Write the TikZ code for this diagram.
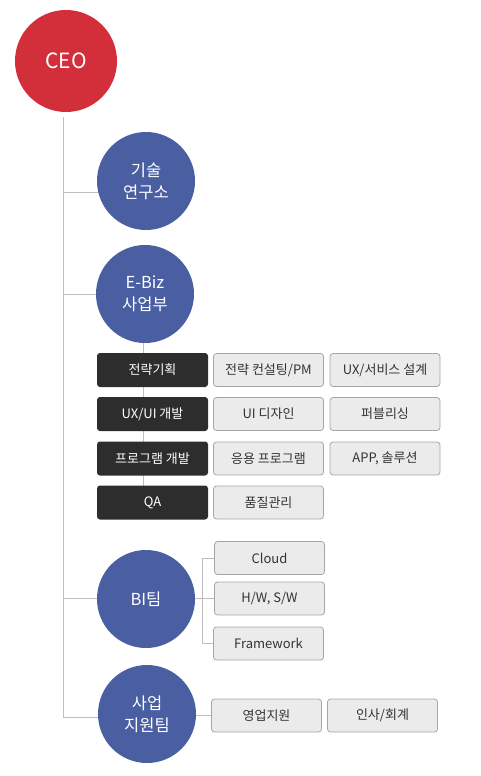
\documentclass[tikz,border=0pt]{standalone}
\usepackage{fontspec}
\setmainfont{Noto Sans CJK KR}
\usetikzlibrary{backgrounds}
\definecolor{cRed}{HTML}{D32F3B}
\definecolor{cBlue}{HTML}{4A5FA2}
\definecolor{cDark}{HTML}{2D2D2D}
\definecolor{cLight}{HTML}{EBEBEB}
\definecolor{cBorder}{HTML}{A6A6A6}
\definecolor{cLine}{HTML}{BEBEBE}
\definecolor{cText}{HTML}{333333}
\begin{document}
\begin{tikzpicture}[x=1pt,y=-1pt,
  ceonode/.style={circle, fill=cRed, minimum size=102pt, inner sep=0pt, text=white, font=\fontsize{21}{24}\selectfont},
  deptnode/.style={circle, fill=cBlue, minimum size=98pt, inner sep=0pt, text=white, align=center, font=\fontsize{16.5}{22}\selectfont},
  darkbox/.style={rectangle, rounded corners=3pt, fill=cDark, text=white, minimum width=111pt, minimum height=34pt, inner sep=0pt, font=\fontsize{13}{15}\selectfont},
  lightbox/.style={rectangle, rounded corners=3pt, fill=cLight, draw=cBorder, line width=0.8pt, text=cText, minimum width=110pt, minimum height=33pt, inner sep=0pt, font=\fontsize{13}{15}\selectfont},
  conn/.style={draw=cLine, line width=1pt}]
\useasboundingbox (0,0) rectangle (480,776);

% circles
\node[ceonode] (ceo) at (66,61) {CEO};
\node[deptnode] (rnd) at (146,181) {기술\\연구소};
\node[deptnode] (ebiz) at (145,294) {E-Biz\\사업부};
\node[deptnode] (bi) at (146,599) {BI팀};
\node[deptnode] (sup) at (147,714) {사업\\지원팀};

% E-Biz rows
\node[darkbox] (d1) at (152.5,370) {전략기획};
\node[darkbox] (d2) at (152.5,414) {UX/UI 개발};
\node[darkbox] (d3) at (152.5,458.5) {프로그램 개발};
\node[darkbox] (d4) at (152.5,502.5) {QA};
\node[lightbox] (l11) at (268.5,370) {전략 컨설팅/PM};
\node[lightbox] (l12) at (385,370) {UX/서비스 설계};
\node[lightbox] (l21) at (268.5,414) {UI 디자인};
\node[lightbox] (l22) at (385,414) {퍼블리싱};
\node[lightbox] (l31) at (268.5,458.5) {응용 프로그램};
\node[lightbox] (l32) at (385,458.5) {APP, 솔루션};
\node[lightbox] (l41) at (268.5,502.5) {품질관리};

% BI boxes
\node[lightbox] (cloud) at (269.5,558) {Cloud};
\node[lightbox] (hw) at (269.5,598.5) {H/W, S/W};
\node[lightbox] (fw) at (268.5,643.5) {Framework};

% support boxes
\node[lightbox] (sales) at (266.5,715.5) {영업지원};
\node[lightbox] (hr) at (382.5,715.5) {인사/회계};

% trunk coordinates
\coordinate (t0) at (63,117);
\coordinate (t1) at (63,192);
\coordinate (t2) at (63,294);
\coordinate (t3) at (63,598);
\coordinate (t4) at (63,717);
\coordinate (bj) at (202,598);
\coordinate (ev) at (143.5,294);

\begin{pgfonlayer}{background}
\draw[conn] (t0) -- (t4) -- (sup.center |- t4);
\draw[conn] (t1) -- (rnd.center |- t1);
\draw[conn] (t2) -- (ebiz.center);
\draw[conn] (t3) -- (bi.center |- t3);
\draw[conn] (ev) -- (ev |- d4.center);
\draw[conn] (bi.center |- t3) -- (bj);
\draw[conn] (cloud.west) -- (cloud.west -| bj) -- (fw.west -| bj) -- (fw.west);
\draw[conn] (bj) -- (hw.west |- bj);
\draw[conn] (sup.center |- sales.west) -- (sales.west);
\end{pgfonlayer}
\end{tikzpicture}
\end{document}
